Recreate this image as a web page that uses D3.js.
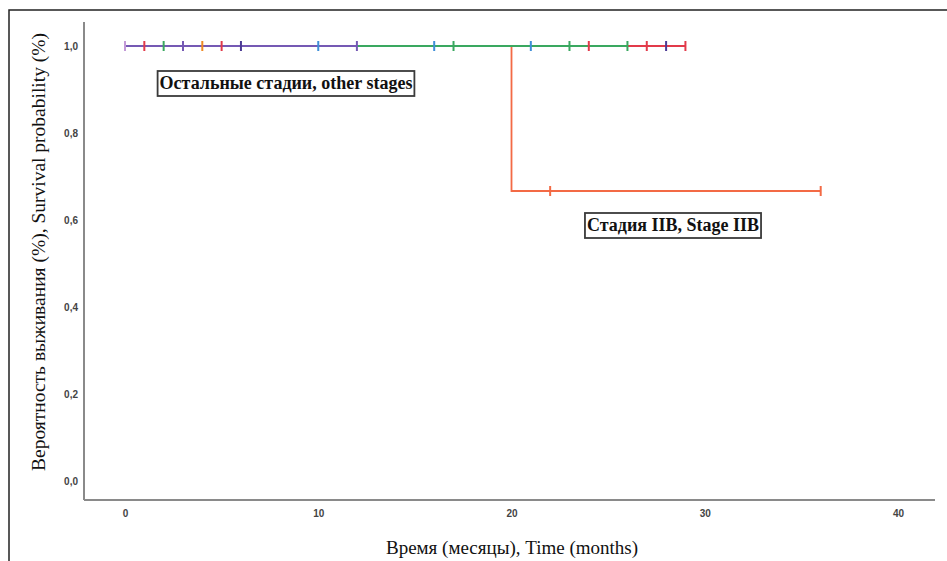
<!DOCTYPE html>
<html>
<head>
<meta charset="utf-8">
<script src="https://cdn.jsdelivr.net/npm/d3@7"></script>
<style>
  body { margin: 0; background: #fff; }
  svg { display: block; }
</style>
</head>
<body>
<svg id="chart" width="947" height="561"></svg>
<script>
// Kaplan-Meier curves, survival by stage

// Tick labels
const xTicks = [0, 10, 20, 30, 40];
const yTicks = [0, 0.2, 0.4, 0.6, 0.8, 1.0];

// Groups in drawing order (bottom first); censored times in months
const groupNames = ["Stage IIB", "orange", "lavender", "dark purple", "red", "blue", "green", "purple"];
const groupColors = ["#f36a45", "#f08a24", "#c39ad8", "#4b3a94", "#e23a4a", "#3f8fd8", "#3aa860", "#7559b4"];
const groupEvents = [[20], [], [], [], [], [], [], []];
const groupCensored = [
    [22, 36],
    [4],
    [0],
    [6, 28],
    [1, 5, 24, 27, 29],
    [10, 16, 21],
    [2, 17, 23, 26],
    [3, 12]
];
// number at risk at start for each group
const groupN = [3, 1, 1, 2, 5, 3, 4, 2];

const labelOther = "Остальные стадии, other stages";
const labelIIB = "Стадия IIB, Stage IIB";
const xTitle = "Время (месяцы), Time (months)";
const yTitle = "Вероятность выживания (%), Survival probability (%)";

const svg = d3.select("#chart");

// outer frame (cropped on the right and bottom)
svg.append("rect")
    .attr("x", 9).attr("y", 10)
    .attr("width", 1000).attr("height", 600)
    .attr("fill", "none")
    .attr("stroke", "#222")
    .attr("stroke-width", 1.5);

const plot = { left: 84, top: 22, right: 935, bottom: 500 };

const x = d3.scaleLinear().domain([0, 40]).range([125, 898]);
const y = d3.scaleLinear().domain([0, 1]).range([481, 46]);

// axis lines
svg.append("line")
    .attr("x1", plot.left).attr("x2", plot.left)
    .attr("y1", plot.top).attr("y2", plot.bottom)
    .attr("stroke", "#8a8a8a").attr("stroke-width", 2);
svg.append("line")
    .attr("x1", plot.left).attr("x2", plot.right)
    .attr("y1", plot.bottom).attr("y2", plot.bottom)
    .attr("stroke", "#8a8a8a").attr("stroke-width", 2);

const commaFmt = d => d3.format(".1f")(d).replace(".", ",");

const yAxis = svg.append("g")
    .attr("transform", "translate(78,0)")
    .call(d3.axisLeft(y).tickValues(yTicks).tickSize(0).tickFormat(commaFmt));
yAxis.select(".domain").remove();
yAxis.selectAll("text")
    .attr("x", 0)
    .attr("text-anchor", "end")
    .style("font-family", "'Liberation Sans', Arial, sans-serif")
    .style("font-size", "10px")
    .style("font-weight", "bold")
    .attr("fill", "#444");

const xAxis = svg.append("g")
    .attr("transform", "translate(0,510)")
    .call(d3.axisBottom(x).tickValues(xTicks).tickSize(0).tickFormat(d3.format("d")));
xAxis.select(".domain").remove();
xAxis.selectAll("text")
    .attr("y", 0)
    .attr("dy", "0.71em")
    .style("font-family", "'Liberation Sans', Arial, sans-serif")
    .style("font-size", "10px")
    .style("font-weight", "bold")
    .attr("fill", "#444");

// build step curve for one group
function kmSteps(events, censored, n) {
    const times = events.map(t => ({ t, ev: true }))
        .concat(censored.map(t => ({ t, ev: false })))
        .sort((a, b) => a.t - b.t || (b.ev - a.ev));
    let s = 1, atRisk = n;
    const pts = [[0, 1]];
    const marks = [];
    times.forEach(d => {
        if (d.ev) {
            pts.push([d.t, s]);
            s = s * (atRisk - 1) / atRisk;
            pts.push([d.t, s]);
        } else {
            marks.push([d.t, s]);
        }
        atRisk -= 1;
    });
    const end = d3.max(times, d => d.t);
    pts.push([end, s]);
    return { pts, marks };
}

const curves = groupNames.map((name, i) => ({
    name,
    color: groupColors[i],
    ...kmSteps(groupEvents[i], groupCensored[i], groupN[i])
}));

const line = d3.line().x(d => x(d[0])).y(d => y(d[1]));

svg.append("g").selectAll("path")
    .data(curves)
    .join("path")
    .attr("d", d => line(d.pts))
    .attr("fill", "none")
    .attr("stroke", d => d.color)
    .attr("stroke-width", 1.8);

// censor marks on top
const markG = svg.append("g");
curves.forEach(c => {
    markG.selectAll(null)
        .data(c.marks)
        .join("line")
        .attr("x1", d => x(d[0])).attr("x2", d => x(d[0]))
        .attr("y1", d => y(d[1]) - 5).attr("y2", d => y(d[1]) + 5)
        .attr("stroke", c.color)
        .attr("stroke-width", 2);
});

// boxed labels
function boxLabel(text, cx, cy) {
    const g = svg.append("g");
    const t = g.append("text")
        .attr("x", cx).attr("y", cy)
        .attr("text-anchor", "middle")
        .attr("dy", "0.35em")
        .style("font-family", "'Liberation Serif', 'Times New Roman', serif")
        .style("font-size", "18px")
        .style("font-weight", "bold")
        .attr("fill", "#111")
        .text(text);
    const bb = t.node().getBBox();
    g.insert("rect", "text")
        .attr("x", bb.x - 2).attr("y", cy - 12)
        .attr("width", bb.width + 4).attr("height", 25)
        .attr("fill", "#fff")
        .attr("stroke", "#3a3a3a")
        .attr("stroke-width", 1.8);
}
boxLabel(labelOther, 286, 83);
boxLabel(labelIIB, 673, 225);

// axis titles
svg.append("text")
    .attr("x", 512).attr("y", 554)
    .attr("text-anchor", "middle")
    .style("font-family", "'Liberation Serif', 'Times New Roman', serif")
    .style("font-size", "19px")
    .attr("fill", "#111")
    .text(xTitle);

svg.append("text")
    .attr("transform", "translate(45,252) rotate(-90)")
    .attr("text-anchor", "middle")
    .style("font-family", "'Liberation Serif', 'Times New Roman', serif")
    .style("font-size", "19.5px")
    .attr("fill", "#111")
    .text(yTitle);
</script>
</body>
</html>
